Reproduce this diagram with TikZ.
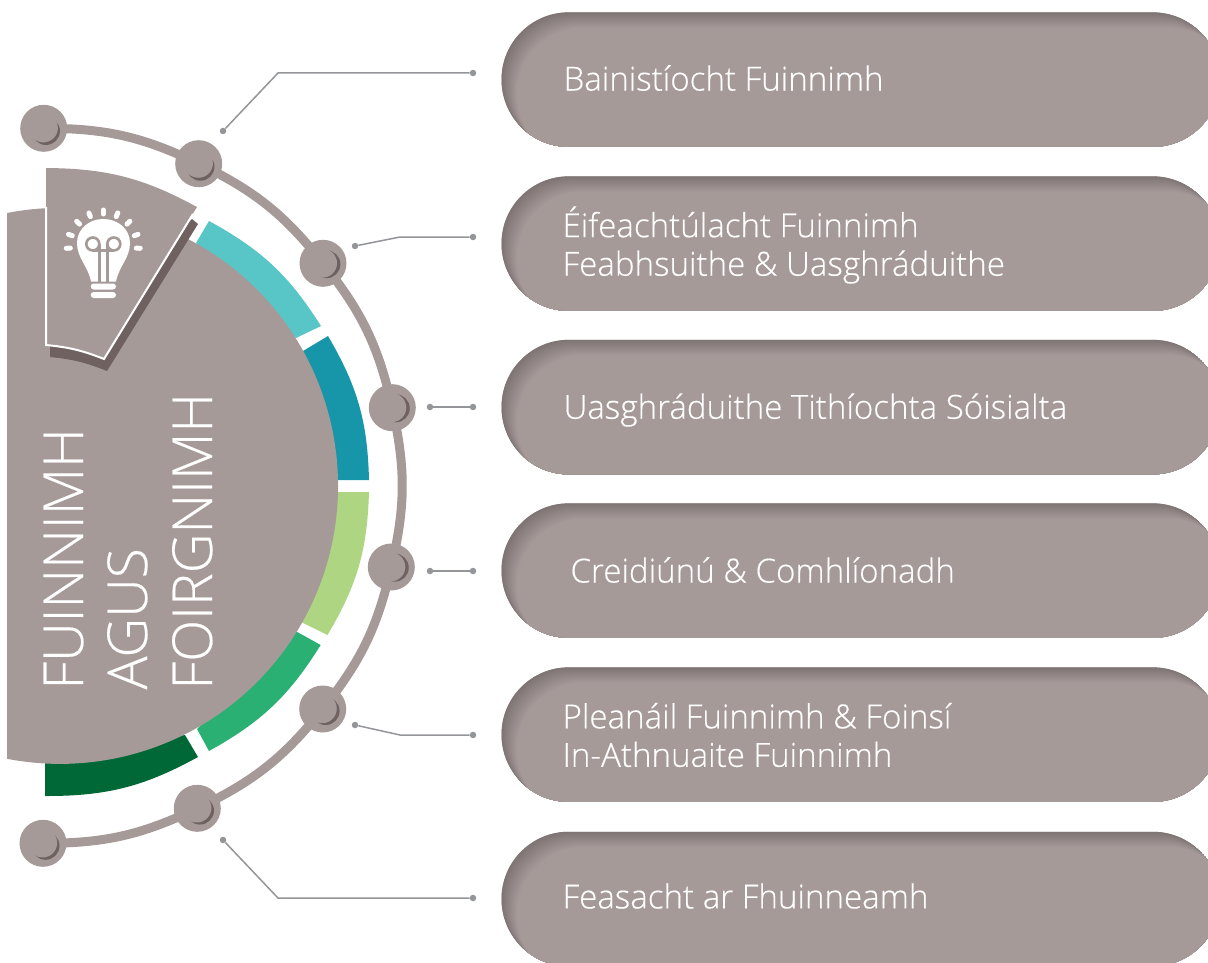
\documentclass[tikz,border=0pt]{standalone}
\usepackage{fontspec}
\setmainfont{Open Sans}
\newfontfamily\lightfont[FakeBold=0.35]{Open Sans Light}
\usetikzlibrary{shapes.misc}
\definecolor{stone}{HTML}{A59A98}
\definecolor{stonedark}{HTML}{6E615F}
\definecolor{edgeshade}{HTML}{7E7474}
\definecolor{leadgray}{HTML}{939598}
\definecolor{segteal}{HTML}{58C5C7}
\definecolor{segblue}{HTML}{1696A8}
\definecolor{seglime}{HTML}{AED582}
\definecolor{seggreen}{HTML}{2BB074}
\definecolor{segforest}{HTML}{006837}
\tikzset{
  ringline/.style={draw=stone,line width=9pt},
  knob/.style={circle,fill=stone,minimum size=47pt,inner sep=0pt},
  leader/.style={draw=leadgray,line width=1.5pt},
  tipdot/.style={circle,fill=leadgray,minimum size=6.5pt,inner sep=0pt},
  pilltext/.style={font=\lightfont\fontsize{33.1}{38.5}\selectfont,text=white,align=left,anchor=west},
  bigtext/.style={font=\lightfont\fontsize{55}{55}\selectfont,text=white,rotate=90,anchor=base west},
  raystroke/.style={line width=5pt,white,line cap=round},
  wick/.style={draw=stone,line width=2.6pt},
  pill/.style={rounded rectangle,fill=stone,minimum width=718.5pt,minimum height=134.5pt,inner sep=0pt,
    path picture={
      \foreach \i in {0,...,15}{
        \pgfmathsetmacro{\mixval}{\i*100/15}
        \fill[stone!\mixval!edgeshade,rounded corners=67pt]
          ([xshift=\i*1.0pt,yshift=-\i*1.0pt]path picture bounding box.north west) rectangle
          ([xshift=\i*1.0pt,yshift=-\i*1.0pt]path picture bounding box.south east);
      }
    }},
}
\begin{document}
\begin{tikzpicture}[x=1pt,y=-1pt]
  \clip (0,0) rectangle (1208,963);

  % Outer ring
  \foreach \n/\x/\y in {1/43.7/128.3,2/198.7/163.7,3/323/263.3,4/392.3/407.7,5/391.3/567,6/322.7/709,7/197.3/808.3,8/43/843.3}
    \coordinate (k\n) at (\x,\y);
  \draw[ringline] (k1) to[bend left=12.9] (k2) to[bend left=12.9] (k3) to[bend left=13] (k4)
    to[bend left=12.9] (k5) to[bend left=12.8] (k6) to[bend left=12.9] (k7) to[bend left=12.8] (k8);

  % Knobs on the ring
  \foreach \n/\a in {1/50,2/60,3/15,4/10,5/10,6/35,7/40,8/45}{
    \node[knob] (knob\n) at (k\n) {};
    \fill[stonedark] ([shift={(\a:3.5)}]k\n) circle (14);
    \fill[stone] ([shift={(\a:-0.5)}]k\n) circle (14.5);
  }

  % Coloured segments
  \fill[segteal] (209,221) to[bend left=14.5] (321,326) -- (296,338) -- (196,243) -- cycle;
  \fill[segblue] (328,336) to[bend left=14.5] (369,480) -- (338,480) -- (303,351) -- cycle;
  \fill[seglime] (369,492) to[bend left=14.5] (327.5,635) -- (301.7,622.3) -- (338,492) -- cycle;
  \fill[seggreen] (320.7,645) to[bend left=14.5] (209,751) -- (197,729) -- (296.7,631.7) -- cycle;
  \fill[segforest] (198,757) to[bend left=14.5] (45,796) -- (45,760) -- (185,735) -- cycle;

  % Main disc
  \fill[stone] (7,213) arc[start angle=-101,end angle=101,radius=278] -- cycle;

  % Wedge with the bulb
  \fill[stonedark] (50,346) -- (50,357) to[bend left=8] (107,371) -- (198,224) -- (192,219) -- cycle;
  \fill[stone] (46,168) to[bend left=14] (197,207) -- (104,359) to[bend right=8] (46,345) -- cycle;
  \draw[white,line width=2pt] (46,207) -- (46,345) to[bend left=8] (104,359) -- (193,214);

  % Bulb
  \foreach \a in {-92,-70,-46,-23,0,23,46,70,92}
    \draw[raystroke] ([shift={(\a-90:33)}]103.3,247) -- ([shift={(\a-90:37)}]103.3,247);
  \fill[white] (91,281.5) .. controls (88,266) and (77,258) .. (77,243) .. controls (77,229) and (89,219) .. (103.3,219)
    .. controls (118,219) and (130,229) .. (130,243) .. controls (130,258) and (119,266) .. (116,281.5) -- cycle;
  \draw[wick] (92.8,244) circle (6.5);
  \draw[wick] (113.8,244) circle (6.5);
  \draw[wick] (92.8,250.5) -- (113.8,250.5);
  \draw[wick] (99.3,281.5) -- (99.3,244);
  \draw[wick] (107.3,281.5) -- (107.3,244);
  \fill[white,rounded corners=3pt] (90.7,283.5) rectangle (116,289.5);
  \fill[white,rounded corners=3pt] (90.7,292) rectangle (116,298);

  % Big labels
  \node[bigtext] (fuinnimh) at (83,693) {FUINNIMH};
  \node[bigtext] (agus) at (147,693) {AGUS};
  \node[bigtext] (foirgnimh) at (212,693) {FOIRGNIMH};

  % Pills
  \node[pill] (p1) at (860.75,79.6) {};
  \node[pill] (p2) at (860.75,243.6) {};
  \node[pill] (p3) at (860.75,407.1) {};
  \node[pill] (p4) at (860.75,570.6) {};
  \node[pill] (p5) at (860.75,734.6) {};
  \node[pill] (p6) at (860.75,899) {};

  \node[pilltext] (t1) at (560,78) {Bainistíocht Fuinnimh};
  \node[pilltext] (t2) at (559,245) {Éifeachtúlacht Fuinnimh\\Feabhsuithe \& Uasghráduithe};
  \node[pilltext] (t3) at (560,410) {Uasghráduithe Tithíochta Sóisialta};
  \node[pilltext] (t4) at (567,570) {Creidiúnú \& Comhlíonadh};
  \node[pilltext] (t5) at (559,735) {Pleanáil Fuinnimh \& Foinsí\\In-Athnuaite Fuinnimh};
  \node[pilltext] (t6) at (559,896) {Feasacht ar Fhuinneamh};

  % Leader lines
  \foreach \n/\ax/\ay/\bx/\by/\cy in {1/223/131/278/73/73,2/355/246/400/237/237,3/430/407/445/407/407,4/430/571/445/571/571,5/355/725/400/735/735,6/223/840/278/898/898}{
    \node[tipdot] (a\n) at (\ax,\ay) {};
    \node[tipdot] (b\n) at (473,\cy) {};
    \coordinate (e\n) at (\bx,\by);
    \draw[leader] (a\n) -- (e\n) -- (b\n);
  }
\end{tikzpicture}
\end{document}
